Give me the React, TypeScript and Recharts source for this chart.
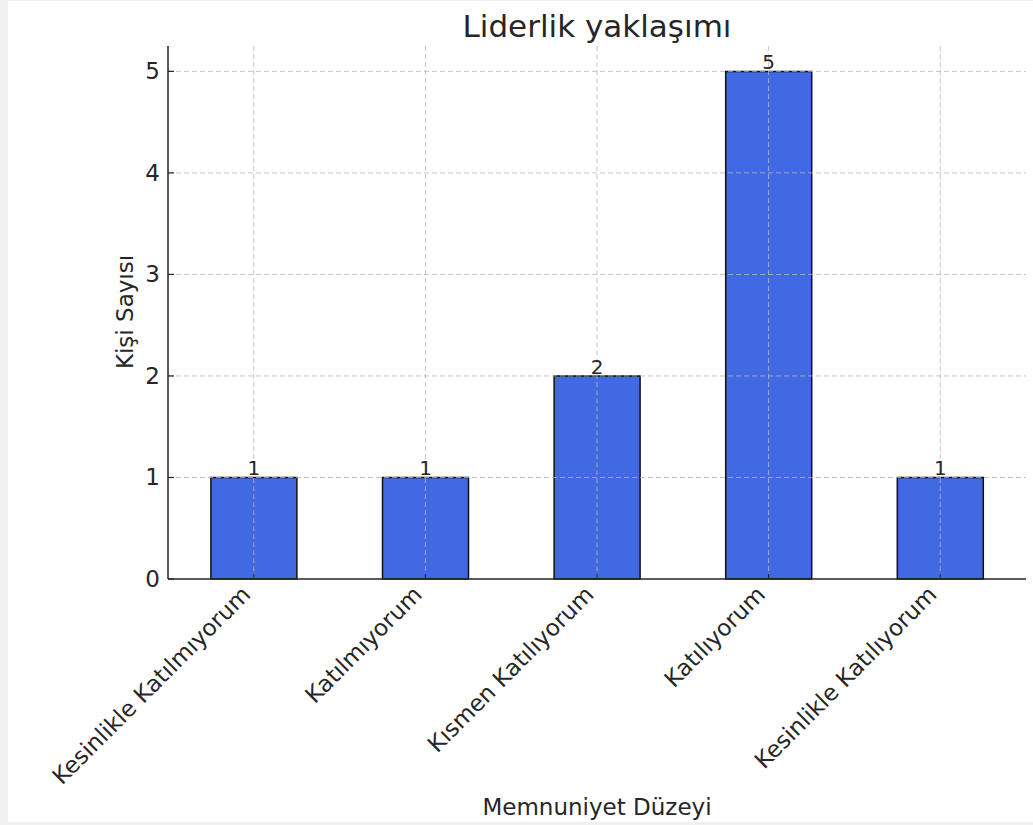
import { BarChart, Bar, XAxis, YAxis, ReferenceLine, LabelList } from 'recharts';

const categories = [
    'Kesinlikle Katılmıyorum',
    'Katılmıyorum',
    'Kısmen Katılıyorum',
    'Katılıyorum',
    'Kesinlikle Katılıyorum',
];
const counts = [1, 1, 2, 5, 1];
const yTicks = [0, 1, 2, 3, 4, 5];

const data = categories.map((name, i) => ({ name, kisi: counts[i] }));

const FONT = '"DejaVu Sans", sans-serif';
const INK = '#262626';
const GRID = { stroke: '#b8b8b8', strokeOpacity: 0.8, strokeDasharray: '5 3' };

// matplotlib style ticks point inward
const XTick = ({ x, y, payload }: any) => (
    <g transform={`translate(${x},${y})`}>
        <line x1={0} y1={0} x2={0} y2={-5} stroke={INK} strokeWidth={1.2} />
        <text
            transform="translate(-2,17) rotate(-45)"
            textAnchor="end"
            fontSize={23}
            fontFamily={FONT}
            fill={INK}
        >
            {payload.value}
        </text>
    </g>
);

const YTick = ({ x, y, payload }: any) => (
    <g transform={`translate(${x},${y})`}>
        <line x1={0} y1={0} x2={6} y2={0} stroke={INK} strokeWidth={1.2} />
        <text x={-8} y={8} textAnchor="end" fontSize={23} fontFamily={FONT} fill={INK}>
            {payload.value}
        </text>
    </g>
);

const App = () => {
    return (
        <div style={{ position: 'absolute', left: 0, top: 0, width: 1033, height: 825, background: '#f0f0f0', fontFamily: FONT }}>
            <div style={{ position: 'absolute', left: 8, top: 1, width: 1025, height: 821, background: '#fff' }} />
            <div style={{ position: 'absolute', left: 0, top: 0 }}>
                <BarChart
                    width={1033}
                    height={825}
                    data={data}
                    margin={{ top: 46, right: 7, left: 108, bottom: 46 }}
                    barCategoryGap="25%"
                >
                    <XAxis
                        dataKey="name"
                        height={200}
                        interval={0}
                        tickSize={0}
                        tickMargin={0}
                        tickLine={false}
                        axisLine={{ stroke: INK, strokeWidth: 1.5 }}
                        tick={<XTick />}
                    />
                    <YAxis
                        width={60}
                        domain={[0, 5.25]}
                        ticks={yTicks}
                        tickSize={0}
                        tickMargin={0}
                        tickLine={false}
                        axisLine={{ stroke: INK, strokeWidth: 1.5 }}
                        tick={<YTick />}
                    />
                    <Bar
                        dataKey="kisi"
                        fill="#4169e1"
                        stroke="#111"
                        strokeWidth={1.5}
                        isAnimationActive={false}
                    >
                        <LabelList dataKey="kisi" position="top" offset={2} fontSize={20} fontFamily={FONT} fill={INK} />
                    </Bar>
                    {yTicks.slice(1).map((v) => (
                        <ReferenceLine key={`h${v}`} y={v} {...GRID} />
                    ))}
                    {categories.map((c) => (
                        <ReferenceLine key={`v${c}`} x={c} {...GRID} />
                    ))}
                </BarChart>
            </div>
            <div style={{ position: 'absolute', left: 168, width: 858, top: 8, textAlign: 'center', fontSize: 31, color: INK }}>
                Liderlik yaklaşımı
            </div>
            <div style={{ position: 'absolute', left: 168, width: 858, top: 794, textAlign: 'center', fontSize: 23, color: INK }}>
                Memnuniyet Düzeyi
            </div>
            <div
                style={{
                    position: 'absolute',
                    left: 125,
                    top: 312,
                    transform: 'translate(-50%, -50%) rotate(-90deg)',
                    whiteSpace: 'nowrap',
                    fontSize: 23,
                    color: INK,
                }}
            >
                Kişi Sayısı
            </div>
        </div>
    );
};

export default App;
